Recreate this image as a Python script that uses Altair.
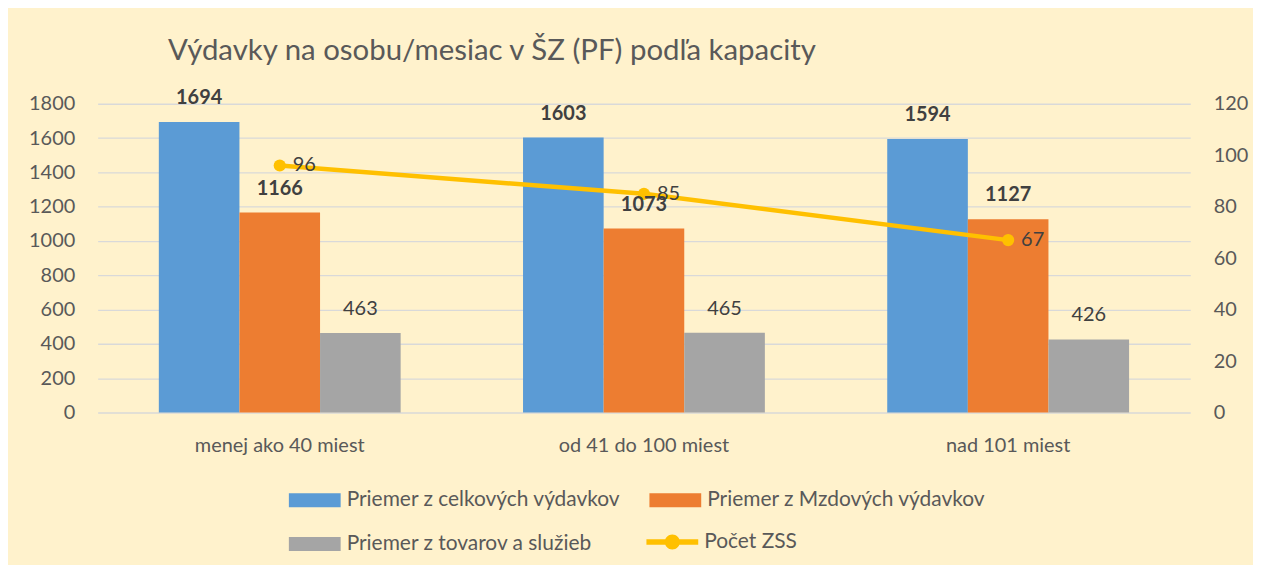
import altair as alt
import pandas as pd

categories = ["menej ako 40 miest", "od 41 do 100 miest", "nad 101 miest"]
series = ["Priemer z celkových výdavkov", "Priemer z Mzdových výdavkov",
          "Priemer z tovarov a služieb"]
line_name = "Počet ZSS"
celkove = [1694, 1603, 1594]
mzdove = [1166, 1073, 1127]
tovary = [463, 465, 426]
pocet = [96, 85, 67]
colors = ["#5B9BD5", "#ED7D31", "#A5A5A5"]
line_color = "#FFC000"
title_text = "Výdavky na osobu/mesiac v ŠZ (PF) podľa kapacity"

FONT = "Lato"
TXT = "#595959"
LBL = "#404040"

rows = []
for s, vals in zip(series, [celkove, mzdove, tovary]):
    for c, v in zip(categories, vals):
        rows.append({"category": c, "series": s, "value": v})
bars_df = pd.DataFrame(rows)
line_df = pd.DataFrame({"category": categories, "pocet": pocet,
                        "name": [line_name] * len(categories)})

rect_path = "M-1,-0.27H1V0.27H-1Z"
line_path = ("M-1,-0.105H1V0.105H-1Z M0.29,0A0.29,0.29,0,1,1,-0.29,0"
             "A0.29,0.29,0,1,1,0.29,0Z")

x_enc = alt.X("category:N", sort=categories,
              scale=alt.Scale(paddingInner=0.336, paddingOuter=0.168),
              axis=alt.Axis(title=None, labelAngle=0, domain=False, ticks=False,
                            labelPadding=23, labelFontSize=20, labelColor=TXT,
                            labelFont=FONT))
xo_enc = alt.XOffset("series:N", sort=series,
                     scale=alt.Scale(paddingInner=0, paddingOuter=0))
yl_scale = alt.Scale(domain=[0, 1800], nice=False)
yr_scale = alt.Scale(domain=[0, 120], nice=False)

legend_common = dict(title=None, orient="none", symbolSize=2704,
                     symbolStrokeWidth=0, labelOffset=6, labelFontSize=21,
                     labelColor=TXT, labelFont=FONT, padding=0, labelLimit=0)

base = alt.Chart(bars_df)

bars = base.mark_bar().encode(
    x=x_enc, xOffset=xo_enc,
    y=alt.Y("value:Q", scale=yl_scale,
            axis=alt.Axis(title=None, values=list(range(0, 1801, 200)),
                          format="d", domain=False, ticks=False, labelPadding=23,
                          labelFontSize=20, labelColor=TXT, labelFont=FONT,
                          grid=True, gridColor="#D9D9D9", gridWidth=1.3)),
    color=alt.Color("series:N", scale=alt.Scale(domain=series, range=colors),
                    legend=alt.Legend(legendX=192, legendY=372, columns=2,
                                      direction="horizontal",
                                      columnPadding=28, rowPadding=8,
                                      symbolType=rect_path, **legend_common)),
)

bold_text = base.transform_filter(
    alt.FieldOneOfPredicate(field="series", oneOf=series[:2])
).mark_text(fontWeight="bold", fontSize=20, font=FONT, color=LBL,
            baseline="middle", dy=-24).encode(
    x=x_enc, xOffset=xo_enc,
    y=alt.Y("value:Q", scale=yl_scale, axis=None),
    text="value:Q",
)
norm_text = base.transform_filter(
    alt.FieldEqualPredicate(field="series", equal=series[2])
).mark_text(fontSize=20, font=FONT, color=LBL,
            baseline="middle", dy=-24).encode(
    x=x_enc, xOffset=xo_enc,
    y=alt.Y("value:Q", scale=yl_scale, axis=None),
    text="value:Q",
)

lbase = alt.Chart(line_df)
line = lbase.mark_line(color=line_color, strokeWidth=4.5).encode(
    x=x_enc,
    y=alt.Y("pocet:Q", scale=yr_scale,
            axis=alt.Axis(title=None, orient="right",
                          values=list(range(0, 121, 20)), domain=False,
                          ticks=False, grid=False, labelPadding=23,
                          labelFontSize=20, labelColor=TXT, labelFont=FONT)),
)
points = lbase.mark_point(filled=True, size=150, opacity=1).encode(
    x=x_enc, y=alt.Y("pocet:Q", scale=yr_scale, axis=None),
    fill=alt.Fill("name:N", scale=alt.Scale(domain=[line_name], range=[line_color]),
                  legend=alt.Legend(legendX=551, legendY=414,
                                    symbolType=line_path, **legend_common)),
)
line_text = lbase.mark_text(fontSize=20, font=FONT, color=LBL, align="left",
                            baseline="middle", dx=13).encode(
    x=x_enc, y=alt.Y("pocet:Q", scale=yr_scale, axis=None),
    text="pocet:Q",
)

chart = alt.layer(bars, line, points, bold_text, norm_text, line_text).resolve_scale(
    y="independent"
).properties(
    width=1097, height=310,
    title=alt.TitleParams(title_text, anchor="start", dx=140, offset=22,
                          fontSize=29.5, font=FONT, fontWeight="normal",
                          color=TXT),
    autosize=alt.AutoSizeParams(type="none"),
    padding={"left": 90, "top": 95, "right": 63, "bottom": 152},
    background="#FFF2CC",
).configure_view(stroke=None)

chart.save("out.html", embed_options={"renderer": "svg", "actions": False})
